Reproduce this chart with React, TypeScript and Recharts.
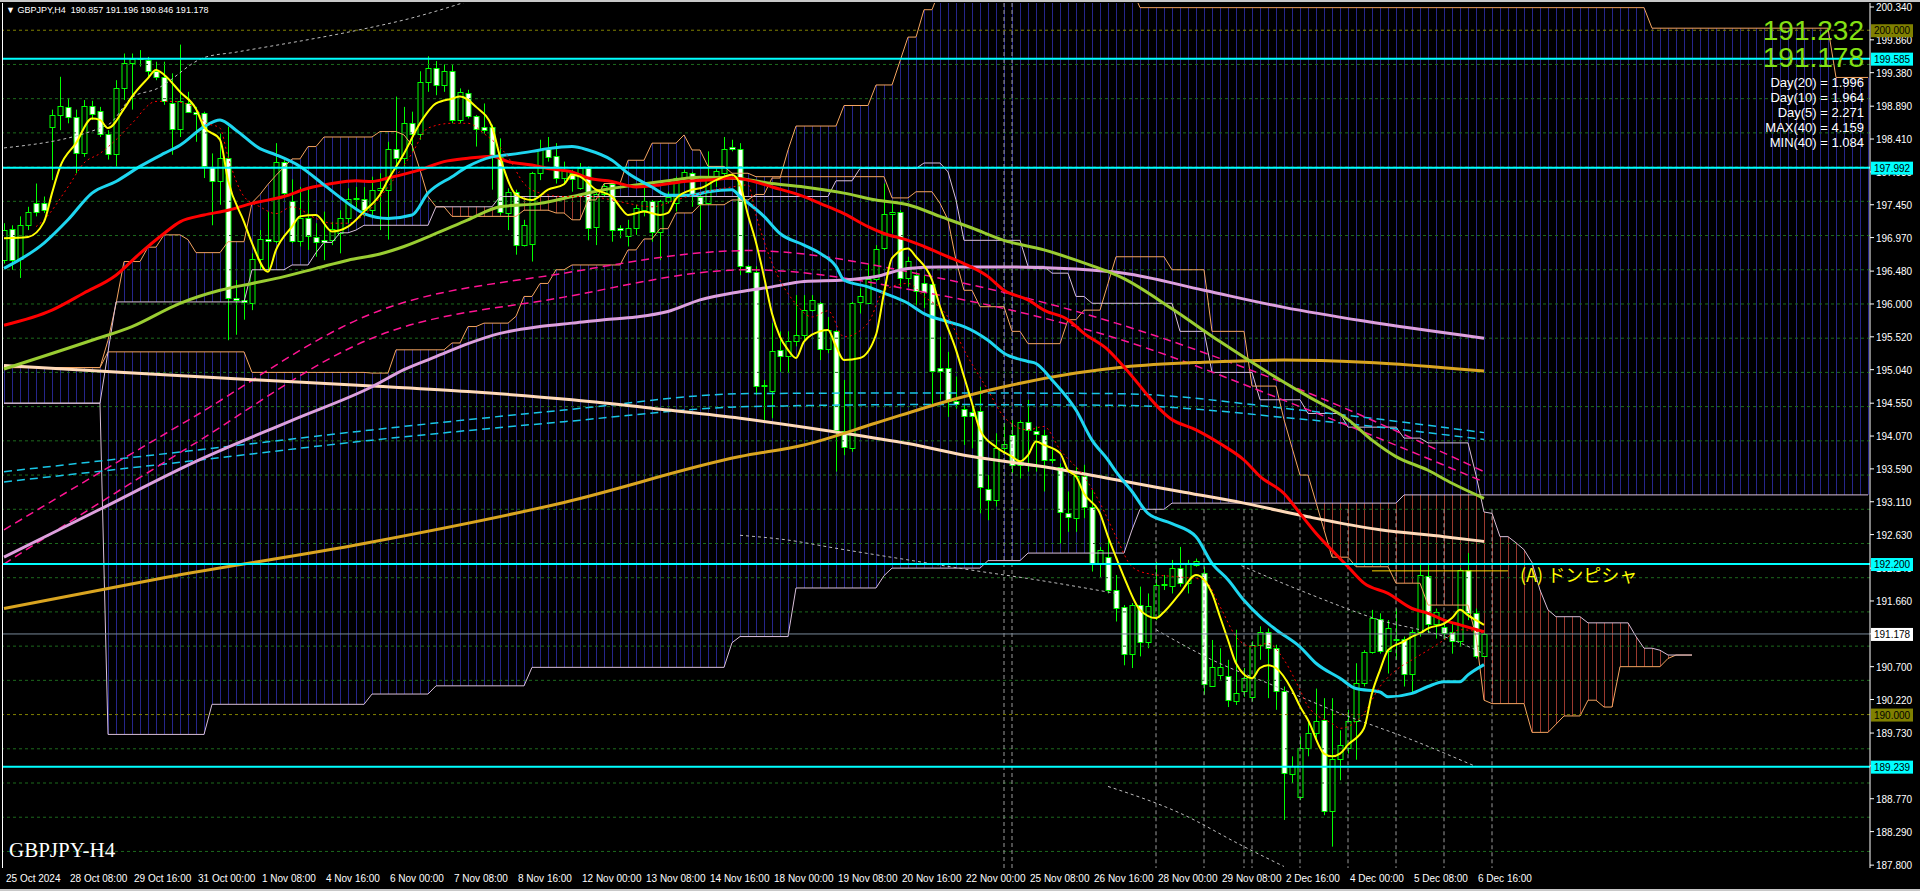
import React from "react";
import { ComposedChart, Bar, Line, XAxis, YAxis, ReferenceLine } from "recharts";

// GBPJPY H4, bars from 25 Oct 2024 00:00 (bar 0) to 6 Dec 2024 20:00 (bar 185)
const opens = [
  196.64, 197.10, 196.65, 197.16, 197.47, 197.47, 198.59, 198.76, 198.88, 198.73,
  198.20, 198.90, 198.82, 198.48, 198.19, 199.15, 199.52, 199.58, 199.57, 199.40,
  199.31, 198.94, 198.55, 198.94, 198.81, 198.79, 198.00, 197.80, 198.14, 196.08,
  196.06, 196.02, 196.65, 196.95, 196.92, 198.07, 197.50, 196.92, 197.26, 196.98,
  196.93, 196.93, 197.04, 197.26, 197.55, 197.53, 197.37, 197.67, 197.67, 198.27,
  198.13, 198.64, 198.48, 199.25, 199.45, 199.20, 199.40, 198.69, 199.09, 198.74,
  198.58, 198.58, 198.15, 197.33, 197.64, 196.86, 196.87, 197.91, 198.26, 198.16,
  197.84, 197.92, 197.70, 197.99, 197.12, 197.60, 197.75, 197.11, 197.00, 197.11,
  197.38, 197.50, 197.05, 197.50, 197.47, 197.84, 197.92, 197.57, 197.47, 197.82,
  197.91, 198.29, 198.27, 196.55, 196.47, 194.82, 194.73, 195.33, 195.24, 195.46,
  195.55, 195.91, 196.01, 195.34, 195.60, 194.14, 193.90, 196.03, 196.02, 196.37,
  196.82, 197.31, 197.35, 196.38, 196.43, 196.30, 196.29, 195.07, 195.06, 194.58,
  194.47, 194.42, 194.44, 193.29, 193.14, 193.90, 194.08, 193.64, 194.27, 194.15,
  194.09, 193.74, 193.62, 192.95, 192.87, 193.49, 193.03, 192.21, 192.30, 191.82,
  191.57, 190.89, 191.60, 191.06, 191.42, 191.89, 191.88, 192.14, 191.92, 192.19,
  192.07, 190.42, 190.58, 190.56, 190.20, 190.34, 190.25, 191.01, 191.20, 190.97,
  190.35, 189.13, 188.80, 189.51, 189.73, 189.92, 188.59, 189.35, 189.51, 189.90,
  190.46, 190.91, 191.39, 190.93, 191.09, 191.11, 190.60, 191.20, 192.03, 191.33,
  191.28, 191.20, 191.07, 192.11, 191.48, 190.857,
];
const highs = [
  197.18, 197.15, 197.28, 197.42, 197.76, 197.57, 198.84, 199.32, 199.01, 198.84,
  198.98, 198.97, 198.88, 198.54, 199.27, 199.66, 199.66, 199.71, 199.61, 199.54,
  199.54, 199.37, 199.79, 199.10, 198.88, 198.81, 198.20, 198.49, 198.59, 196.35,
  196.25, 196.74, 197.08, 197.35, 198.35, 198.10, 197.82, 197.71, 197.71, 197.18,
  197.35, 197.20, 197.37, 197.69, 197.71, 197.71, 197.86, 197.91, 198.37, 199.03,
  198.88, 198.81, 199.40, 199.62, 199.55, 199.50, 199.50, 199.15, 199.13, 198.76,
  198.93, 198.62, 198.42, 197.69, 197.67, 197.23, 197.93, 198.40, 198.44, 198.35,
  198.08, 197.96, 198.06, 198.01, 197.62, 197.76, 197.76, 197.15, 197.23, 197.45,
  197.71, 197.52, 197.52, 197.64, 197.86, 197.96, 197.93, 197.59, 198.23, 197.97,
  198.44, 198.40, 198.35, 196.57, 196.55, 194.89, 195.72, 195.60, 195.60, 196.13,
  196.13, 196.13, 196.03, 195.81, 195.62, 194.89, 196.03, 196.23, 196.59, 196.86,
  197.76, 197.47, 197.37, 196.69, 196.47, 196.42, 196.33, 195.52, 195.30, 194.94,
  194.52, 194.50, 194.79, 193.50, 194.11, 194.26, 194.30, 194.30, 194.60, 194.21,
  194.16, 193.87, 193.67, 193.26, 193.62, 193.65, 193.28, 192.45, 192.60, 192.04,
  191.60, 191.63, 191.87, 191.77, 192.23, 192.04, 192.26, 192.45, 192.26, 192.28,
  192.16, 191.09, 190.97, 190.80, 191.24, 190.68, 191.07, 191.29, 191.26, 191.02,
  190.41, 189.39, 189.68, 189.90, 190.38, 190.24, 190.24, 189.77, 190.07, 190.75,
  190.94, 191.53, 191.48, 191.38, 191.55, 191.14, 191.24, 192.19, 192.21, 191.55,
  191.33, 191.33, 192.14, 192.36, 191.55, 191.196,
];
const lows = [
  196.59, 196.50, 196.38, 197.08, 197.28, 197.33, 197.81, 198.54, 198.64, 197.91,
  198.15, 198.69, 198.44, 198.11, 198.01, 198.98, 198.84, 199.47, 199.32, 199.27,
  198.91, 198.18, 198.44, 198.79, 198.37, 197.84, 197.15, 197.45, 195.47, 195.55,
  195.77, 195.91, 196.50, 196.50, 196.89, 197.59, 196.89, 196.84, 196.79, 196.69,
  196.64, 196.86, 196.74, 197.18, 197.37, 197.28, 197.25, 197.08, 196.94, 197.96,
  198.01, 198.23, 198.40, 199.10, 199.05, 199.10, 198.64, 198.64, 198.71, 198.30,
  198.49, 197.67, 197.30, 197.08, 196.72, 196.84, 196.62, 197.81, 198.08, 197.76,
  197.76, 197.64, 197.67, 196.93, 196.86, 197.57, 196.91, 196.96, 196.84, 197.01,
  197.28, 196.91, 196.64, 197.47, 197.35, 197.79, 197.42, 197.08, 197.45, 197.71,
  197.89, 198.23, 196.42, 196.45, 194.67, 194.30, 194.33, 195.01, 194.99, 195.38,
  195.47, 195.89, 195.18, 195.28, 193.55, 193.79, 193.84, 195.86, 196.01, 196.33,
  196.79, 197.03, 196.25, 196.25, 195.98, 195.94, 194.50, 194.60, 194.35, 194.47,
  193.94, 193.89, 192.94, 192.84, 193.04, 193.82, 193.53, 193.45, 193.55, 193.55,
  193.26, 193.67, 192.50, 192.67, 192.67, 192.87, 192.09, 192.01, 191.77, 191.36,
  190.72, 190.68, 190.85, 190.97, 191.38, 191.82, 191.77, 191.87, 191.77, 192.16,
  190.29, 190.41, 190.51, 190.11, 190.14, 190.26, 190.19, 190.80, 190.24, 190.07,
  188.46, 189.00, 188.75, 189.39, 189.60, 188.53, 188.07, 189.04, 189.43, 189.34,
  190.41, 190.89, 190.89, 190.60, 190.80, 190.41, 190.31, 191.14, 191.19, 191.11,
  191.09, 190.89, 190.99, 191.38, 190.82, 190.846,
];
const closes = [
  197.08, 196.64, 197.16, 197.35, 197.35, 197.38, 198.76, 198.89, 198.73, 198.20,
  198.90, 198.78, 198.48, 198.19, 199.15, 199.52, 199.58, 199.60, 199.40, 199.32,
  198.96, 198.55, 198.97, 198.81, 198.78, 198.01, 197.80, 198.14, 196.08, 196.06,
  196.03, 196.65, 196.95, 196.92, 198.07, 197.62, 196.92, 197.26, 197.00, 196.90,
  196.90, 197.09, 197.26, 197.53, 197.53, 197.37, 197.67, 197.70, 198.27, 198.13,
  198.65, 198.48, 199.25, 199.45, 199.20, 199.40, 198.69, 199.10, 198.74, 198.55,
  198.54, 198.15, 197.34, 197.64, 196.86, 197.15, 197.91, 198.26, 198.15, 197.84,
  197.94, 197.82, 197.99, 197.11, 197.60, 197.73, 197.08, 197.08, 197.11, 197.40,
  197.50, 197.05, 197.50, 197.57, 197.84, 197.93, 197.58, 197.46, 197.84, 197.94,
  198.26, 198.26, 196.55, 196.47, 194.80, 194.80, 195.31, 195.24, 195.46, 195.55,
  195.91, 196.06, 195.34, 195.62, 194.16, 193.91, 196.02, 196.11, 196.37, 196.81,
  197.31, 197.35, 196.38, 196.63, 196.19, 196.17, 195.02, 195.02, 194.58, 194.54,
  194.37, 194.37, 193.32, 193.14, 193.90, 193.96, 193.64, 194.27, 194.16, 194.10,
  193.72, 193.72, 192.96, 192.88, 193.49, 193.04, 192.21, 192.41, 191.82, 191.55,
  190.89, 191.60, 191.06, 191.58, 191.89, 191.91, 192.14, 191.92, 192.20, 192.24,
  190.44, 190.70, 190.70, 190.21, 190.32, 190.54, 191.01, 191.20, 190.97, 190.34,
  189.14, 189.25, 189.51, 189.73, 189.91, 188.59, 189.35, 189.56, 189.90, 190.46,
  190.91, 191.41, 190.93, 191.26, 191.10, 190.60, 191.20, 192.04, 191.33, 191.50,
  191.19, 191.07, 192.11, 191.48, 190.85, 191.178,
];

// time axis labels, one every 8 bars
const xLabels = [
  "25 Oct 2024", "28 Oct 08:00", "29 Oct 16:00", "31 Oct 00:00", "1 Nov 08:00", "4 Nov 16:00",
  "6 Nov 00:00", "7 Nov 08:00", "8 Nov 16:00", "12 Nov 00:00", "13 Nov 08:00", "14 Nov 16:00",
  "18 Nov 00:00", "19 Nov 08:00", "20 Nov 16:00", "22 Nov 00:00", "25 Nov 08:00", "26 Nov 16:00",
  "28 Nov 00:00", "29 Nov 08:00", "2 Dec 16:00", "4 Dec 00:00", "5 Dec 08:00", "6 Dec 16:00",
];
const xTickBars = xLabels.map((_, k) => k * 8);

const yTicks = [
  200.34, 199.86, 199.38, 198.89, 198.41, 197.93, 197.45, 196.97, 196.48, 196.0,
  195.52, 195.04, 194.55, 194.07, 193.59, 193.11, 192.63, 192.14, 191.66, 191.18,
  190.7, 190.22, 189.73, 189.25, 188.77, 188.29, 187.8,
];
const gridLevels = [
  188.0, 188.5, 189.0, 189.5, 190.5, 191.0, 191.5, 192.0, 192.5, 193.0, 193.5,
  194.0, 194.5, 195.0, 195.5, 196.0, 196.5, 197.0, 197.5, 198.0, 198.5, 199.0, 199.5,
];
const roundLevels = [190.0, 200.0];
const cyanLevels = [199.585, 197.992, 192.2, 189.239];
const lastPrice = 191.178;
const markA = { from: 171, to: 188, price: 192.1, text: "(A)  ドンピシャ" };
const weekSeparators = [125, 126];
const daySeparators = [144, 150, 155, 156, 162, 168, 174, 180, 186];
const daySepTop = 193.0;
const dayStats = ["Day(20) = 1.996", "Day(10) = 1.964", "Day(5) = 2.271", "MAX(40) = 4.159", "MIN(40) = 1.084"];
const askPrice = 191.232;

// moving averages, [bar, price]
const ma1 = [
  [0, 196.96], [3, 196.98], [5, 197.2], [6, 197.62], [7, 198.0], [9, 198.35], [11, 198.71], [12, 198.69],
  [13, 198.57], [15, 198.85], [16, 199.03], [18, 199.3], [19, 199.42], [20, 199.35], [22, 199.1], [24, 198.85],
  [25, 198.59], [27, 198.4], [28, 197.81], [30, 197.2], [31, 196.89], [33, 196.47], [34, 196.79], [36, 197.13],
  [37, 197.28], [39, 197.3], [41, 197.06], [43, 197.13], [45, 197.35], [47, 197.6], [48, 197.81], [50, 198.2],
  [52, 198.64], [54, 198.93], [56, 199.0], [57, 199.03], [59, 198.88], [61, 198.59], [62, 198.15], [64, 197.6],
  [66, 197.52], [68, 197.67], [70, 197.75], [71, 197.89], [72, 197.86], [74, 197.67], [76, 197.57], [77, 197.42],
  [78, 197.3], [80, 197.35], [82, 197.3], [83, 197.33], [84, 197.54], [86, 197.67], [87, 197.69], [89, 197.81],
  [91, 197.89], [92, 197.75], [93, 197.3], [94, 196.9], [95, 196.4], [96, 195.86], [97, 195.52], [98, 195.33],
  [99, 195.21], [100, 195.45], [102, 195.6], [103, 195.62], [104, 195.38], [105, 195.18], [107, 195.21],
  [109, 195.55], [110, 196.16], [111, 196.67], [113, 196.81], [114, 196.69], [116, 196.35], [117, 195.96],
  [119, 195.33], [120, 194.94], [121, 194.55], [122, 194.16], [124, 193.91], [126, 193.77], [127, 193.7],
  [128, 193.79], [129, 193.99], [130, 193.94], [132, 193.82], [133, 193.57], [134, 193.48], [135, 193.23],
  [137, 192.94], [138, 192.6], [139, 192.3], [140, 192.01], [142, 191.53], [144, 191.41], [145, 191.5],
  [147, 191.77], [149, 192.04], [151, 191.77], [152, 191.43], [153, 191.09], [154, 190.75], [156, 190.53],
  [157, 190.68], [158, 190.72], [159, 190.68], [161, 190.36], [162, 190.12], [163, 189.92], [165, 189.43],
  [166, 189.39], [167, 189.43], [168, 189.56], [170, 189.8], [171, 190.31], [172, 190.65], [173, 190.94],
  [175, 191.07], [176, 191.14], [177, 191.19], [178, 191.26], [180, 191.33], [181, 191.41], [182, 191.53],
  [183, 191.45], [184, 191.38], [185, 191.31],
];
const ma2 = [
  [4, 197.13], [5, 197.23], [8, 197.71], [10, 198.06], [12, 198.2], [14, 198.4], [16, 198.64], [19, 198.96],
  [21, 198.96], [24, 198.86], [25, 198.66], [27, 198.57], [28, 198.15], [30, 197.57], [32, 197.42], [34, 197.32],
  [36, 197.42], [39, 197.25], [41, 197.18], [43, 197.18], [45, 197.3], [48, 197.71], [51, 198.2], [53, 198.57],
  [56, 198.64], [58, 198.64], [60, 198.49], [63, 198.15], [65, 197.76], [67, 197.62], [70, 197.57], [73, 197.57],
  [76, 197.52], [78, 197.47], [81, 197.42], [84, 197.52], [87, 197.62], [91, 197.71], [93, 197.74], [94, 197.3],
  [96, 196.6], [99, 196.0], [101, 195.81], [103, 195.9], [105, 195.52], [108, 195.72], [110, 196.2], [113, 196.3],
  [115, 196.11], [118, 195.81], [120, 195.33], [123, 194.74], [125, 194.35], [128, 194.16], [130, 194.21],
  [132, 193.87], [135, 193.48], [137, 193.09], [139, 192.6], [141, 192.16], [143, 192.06], [147, 192.01],
  [150, 191.97], [152, 191.58], [154, 191.14], [156, 190.99], [158, 191.04], [160, 190.8], [162, 190.36],
  [163, 190.12], [166, 189.87], [167, 189.8], [170, 190.02], [172, 190.41], [174, 190.65], [176, 190.8],
  [178, 190.94], [180, 191.09], [182, 191.24], [185, 191.19],
];
const ma3 = [
  [0, 196.52], [5, 196.89], [8, 197.23], [11, 197.62], [14, 197.79], [17, 198.01], [20, 198.2], [22, 198.32],
  [25, 198.59], [27, 198.69], [29, 198.54], [32, 198.27], [34, 198.18], [37, 198.01], [40, 197.74], [43, 197.47],
  [45, 197.32], [48, 197.25], [51, 197.3], [53, 197.62], [56, 197.86], [58, 198.01], [61, 198.15], [63, 198.18],
  [66, 198.23], [68, 198.27], [71, 198.3], [73, 198.25], [76, 198.1], [78, 197.91], [81, 197.71], [83, 197.59],
  [86, 197.59], [88, 197.64], [91, 197.67], [92, 197.57], [95, 197.28], [97, 197.03], [100, 196.86], [102, 196.74],
  [104, 196.55], [105, 196.35], [108, 196.25], [110, 196.16], [113, 196.01], [115, 195.86], [118, 195.74],
  [120, 195.67], [123, 195.47], [125, 195.28], [128, 195.16], [129, 195.13], [131, 194.89], [134, 194.45],
  [136, 194.01], [138, 193.72], [139, 193.55], [141, 193.26], [143, 192.94], [146, 192.79], [149, 192.6],
  [151, 192.21], [153, 191.97], [155, 191.67], [157, 191.43], [159, 191.24], [162, 190.99], [164, 190.75],
  [167, 190.53], [169, 190.38], [172, 190.33], [173, 190.26], [176, 190.31], [178, 190.41], [180, 190.48],
  [182, 190.48], [183, 190.58], [185, 190.73],
];
const ma4 = [
  [0, 195.69], [6, 195.91], [10, 196.16], [14, 196.42], [17, 196.74], [20, 197.03], [22, 197.2], [25, 197.3],
  [28, 197.37], [31, 197.47], [35, 197.57], [38, 197.69], [41, 197.76], [44, 197.8], [46, 197.79], [48, 197.84],
  [52, 197.96], [55, 198.08], [58, 198.13], [61, 198.16], [63, 198.08], [66, 198.03], [68, 197.98], [71, 197.93],
  [73, 197.84], [76, 197.79], [79, 197.71], [82, 197.74], [85, 197.79], [88, 197.81], [91, 197.84], [93, 197.81],
  [96, 197.71], [100, 197.57], [102, 197.47], [105, 197.32], [108, 197.13], [110, 197.03], [113, 196.93],
  [115, 196.84], [118, 196.69], [120, 196.59], [123, 196.4], [125, 196.2], [128, 196.06], [130, 195.91],
  [133, 195.77], [135, 195.57], [138, 195.33], [140, 195.08], [146, 194.31], [149, 194.16], [152, 193.96],
  [155, 193.72], [157, 193.48], [160, 193.23], [162, 192.94], [164, 192.65], [166, 192.4], [168, 192.16],
  [170, 191.92], [173, 191.77], [176, 191.55], [178, 191.48], [180, 191.38], [182, 191.31], [185, 191.21],
];
const ma5 = [
  [0, 195.05], [11, 195.47], [16, 195.67], [22, 196.01], [27, 196.2], [31, 196.3], [35, 196.4], [39, 196.52],
  [43, 196.64], [47, 196.73], [50, 196.84], [54, 197.03], [58, 197.23], [62, 197.42], [67, 197.47], [71, 197.57],
  [75, 197.67], [79, 197.74], [83, 197.8], [87, 197.85], [92, 197.83], [96, 197.76], [100, 197.71], [105, 197.62],
  [109, 197.52], [113, 197.45], [117, 197.28], [121, 197.11], [125, 196.93], [130, 196.79], [134, 196.64],
  [140, 196.37], [146, 195.93], [152, 195.45], [158, 195.0], [163, 194.65], [168, 194.31], [171, 194.01],
  [174, 193.77], [178, 193.57], [181, 193.38], [185, 193.16],
];
const ma6 = [
  [0, 192.3], [12, 193.0], [24, 193.7], [36, 194.3], [46, 194.79], [50, 195.04], [54, 195.23], [58, 195.42],
  [62, 195.57], [67, 195.67], [71, 195.72], [75, 195.77], [79, 195.81], [83, 195.89], [87, 196.06], [92, 196.18],
  [96, 196.25], [100, 196.33], [105, 196.35], [109, 196.4], [113, 196.52], [117, 196.54], [125, 196.54],
  [134, 196.51], [140, 196.45], [150, 196.2], [160, 195.95], [170, 195.75], [185, 195.5],
];
const ma7 = [
  [0, 191.55], [20, 192.0], [45, 192.5], [70, 193.1], [92, 193.77], [100, 193.94], [109, 194.26], [117, 194.55],
  [125, 194.79], [134, 194.99], [140, 195.08], [150, 195.15], [160, 195.18], [170, 195.15], [185, 195.02],
];
const ma8 = [
  [0, 195.1], [15, 195.0], [30, 194.9], [46, 194.8], [58, 194.72], [71, 194.6], [83, 194.45], [92, 194.33],
  [104, 194.13], [113, 193.96], [121, 193.77], [130, 193.62], [139, 193.43], [147, 193.26], [155, 193.09],
  [163, 192.89], [172, 192.7], [180, 192.6], [185, 192.53],
];
const cyanDashA = [
  [0, 193.55], [23, 193.85], [46, 194.16], [70, 194.45], [93, 194.69], [116, 194.7], [139, 194.69], [162, 194.45], [185, 194.12],
];
const cyanDashB = [
  [0, 193.4], [23, 193.7], [46, 194.01], [70, 194.28], [93, 194.5], [116, 194.53], [139, 194.52], [162, 194.32], [185, 194.02],
];
const pinkDashA = [
  [0, 192.7], [23, 194.3], [46, 195.86], [70, 196.45], [93, 196.78], [116, 196.4], [139, 195.72], [162, 194.75], [185, 193.55],
];
const pinkDashB = [
  [0, 192.2], [23, 193.9], [46, 195.5], [70, 196.1], [93, 196.5], [116, 196.15], [139, 195.5], [162, 194.5], [185, 193.4],
];
const bandA = [[92, 192.62], [98, 192.55], [104, 192.43], [113, 192.26], [121, 192.11], [129, 191.97], [139, 191.77]];
const bandB = [[144, 191.24], [151, 190.8], [159, 190.41], [167, 190.02], [176, 189.63], [184, 189.24]];
const bandC = [[138, 188.95], [147, 188.56], [155, 188.07], [160, 187.78]];
const bandD = [[154, 192.21], [163, 191.77], [172, 191.38], [180, 191.14], [185, 190.89]];
const bandE = [[0, 198.28], [13, 198.62], [16, 199.02], [19, 199.14], [25, 199.6], [29, 199.68], [45, 200.02], [50, 200.15], [60, 200.5]];

// cloud spans as flat runs: [first bar, last bar, price]
const spanA1Runs = [
  [0, 12, 195.07], [13, 13, 195.47], [14, 14, 196.0], [15, 17, 196.62], [18, 19, 196.83], [20, 22, 197.01],
  [23, 23, 196.94], [24, 27, 196.75], [28, 30, 196.91], [31, 31, 197.48], [32, 32, 197.6], [33, 33, 197.75],
  [34, 34, 197.88], [35, 35, 198.0], [36, 37, 198.12], [38, 39, 198.3], [40, 46, 198.44], [47, 49, 198.52],
  [50, 50, 198.47], [51, 51, 198.32], [52, 52, 197.96], [53, 53, 197.57], [54, 55, 197.42], [56, 64, 197.28],
  [65, 68, 197.37], [69, 70, 197.33], [71, 72, 197.23], [73, 74, 197.52], [75, 77, 197.76], [78, 80, 198.1],
  [81, 84, 198.35], [85, 85, 198.47], [86, 87, 198.25], [88, 90, 198.01], [91, 93, 197.91], [94, 110, 197.86],
  [111, 113, 197.55], [114, 116, 197.64], [117, 117, 197.47], [118, 118, 197.23], [119, 119, 196.64],
  [120, 121, 196.2], [122, 125, 195.96], [126, 127, 195.6], [128, 132, 195.42], [133, 134, 195.77],
  [135, 137, 195.91], [138, 138, 196.3], [139, 145, 196.69], [146, 150, 196.5], [151, 155, 195.6],
  [156, 159, 194.8], [160, 160, 194.31], [161, 161, 193.9], [162, 163, 193.5], [164, 164, 193.1],
  [165, 165, 192.7], [166, 168, 192.3], [169, 173, 192.16], [174, 177, 191.92], [178, 183, 191.6],
  [184, 184, 191.14], [185, 185, 190.21], [186, 190, 190.16], [191, 193, 189.74], [194, 194, 189.86],
  [195, 197, 189.98], [198, 199, 190.21], [200, 201, 190.11], [202, 207, 190.7], [208, 208, 190.82], [209, 211, 190.87],
];
const spanB1Runs = [
  [0, 12, 194.55], [13, 13, 195.3], [14, 30, 196.03], [31, 35, 196.5], [36, 38, 196.57], [39, 39, 196.75],
  [40, 41, 196.9], [42, 43, 197.04], [44, 44, 197.08], [45, 53, 197.15], [54, 61, 197.42], [62, 103, 197.57],
  [104, 106, 197.8], [107, 114, 197.98], [115, 117, 198.06], [118, 118, 197.93], [119, 119, 197.52],
  [120, 127, 196.93], [128, 130, 196.55], [131, 133, 196.45], [134, 135, 196.11], [136, 146, 196.01],
  [147, 150, 195.6], [151, 156, 195.0], [157, 162, 194.6], [163, 167, 194.4], [168, 174, 194.2],
  [175, 177, 194.04], [178, 183, 193.97], [184, 184, 193.5], [185, 185, 192.96], [186, 186, 192.94],
  [187, 188, 192.6], [189, 189, 192.51], [190, 190, 192.41], [191, 191, 192.22], [192, 192, 191.82],
  [193, 193, 191.53], [194, 197, 191.43], [198, 203, 191.34], [204, 204, 191.14], [205, 206, 190.97],
  [207, 207, 190.94], [208, 211, 190.87],
];
const spanA2Runs = [
  [0, 12, 195.07], [13, 30, 195.3], [31, 45, 195.0], [46, 48, 194.99], [49, 55, 195.33], [56, 57, 195.43],
  [58, 59, 195.67], [60, 63, 195.72], [64, 64, 195.82], [65, 66, 196.11], [67, 68, 196.3], [69, 70, 196.5],
  [71, 77, 196.57], [78, 79, 196.79], [80, 81, 196.95], [82, 83, 197.1], [84, 86, 197.33], [87, 90, 197.45],
  [91, 93, 197.52], [94, 95, 197.6], [96, 97, 197.84], [98, 98, 198.25], [99, 104, 198.6], [105, 108, 198.9],
  [109, 111, 199.2], [112, 112, 199.55], [113, 114, 199.9], [115, 116, 200.3], [117, 141, 200.6],
  [142, 205, 200.33], [206, 228, 200.03], [229, 233, 199.31],
];
const spanB2Runs = [
  [0, 12, 194.55], [13, 25, 189.71], [26, 45, 190.15], [46, 53, 190.3], [54, 65, 190.42], [66, 90, 190.69],
  [91, 91, 191.05], [92, 98, 191.14], [99, 109, 191.85], [110, 110, 192.03], [111, 122, 192.14],
  [123, 127, 192.25], [128, 140, 192.36], [141, 141, 192.7], [142, 145, 193.0], [146, 174, 193.09], [175, 233, 193.21],
];

const X_MIN = -0.25;
const X_MAX = 233.25;
const Y_MIN = 187.758;
const Y_MAX = 200.398;
const N = 234;
const MARGIN = { top: 3, right: 0, bottom: 0, left: 2 };

const AXIS_FONT = "'Liberation Sans', Arial, sans-serif";
const BLUE_KUMO = "#26268a";
const RED_KUMO = "#9a3a30";

function fromRuns(runs: number[][]) {
  const out: (number | null)[] = new Array(N).fill(null);
  runs.forEach(([a, b, v]) => {
    for (let k = a; k <= b; k++) out[k] = v;
  });
  return out;
}

const a1 = fromRuns(spanA1Runs);
const b1 = fromRuns(spanB1Runs);
const a2 = fromRuns(spanA2Runs);
const b2 = fromRuns(spanB2Runs);

const rows = Array.from({ length: N }, (_, i) => {
  const A1 = a1[i], B1 = b1[i], A2 = a2[i], B2 = b2[i];
  const has = i < closes.length;
  return {
    i,
    candle: has ? [lows[i], highs[i]] : null,
    o: has ? opens[i] : null,
    h: has ? highs[i] : null,
    l: has ? lows[i] : null,
    c: has ? closes[i] : null,
    k1up: A1 != null && B1 != null && A1 > B1 ? [B1, A1] : null,
    k1dn: A1 != null && B1 != null && B1 > A1 ? [A1, B1] : null,
    k2: A2 != null && B2 != null && A2 > B2 ? [B2, A2] : null,
    a1: A1, b1: B1, a2: A2, b2: B2,
  };
});

const pts = (arr: number[][]) => arr.map(([i, v]) => ({ i, v }));

function Candle(props: any) {
  const { x, y, width, height, payload } = props;
  if (!payload || payload.o == null || height == null || isNaN(y)) return null;
  const cx = Math.round(x + width / 2) + 0.5;
  const k = height / (payload.h - payload.l || 1);
  const yo = y + (payload.h - payload.o) * k;
  const yc = y + (payload.h - payload.c) * k;
  const top = Math.round(Math.min(yo, yc)) + 0.5;
  const bot = Math.round(Math.max(yo, yc)) + 0.5;
  const bull = payload.c >= payload.o;
  return (
    <g>
      <line x1={cx} x2={cx} y1={y} y2={y + height} stroke="#00ff00" strokeWidth={1} />
      <rect x={cx - 2.5} y={top} width={5} height={Math.max(bot - top, 1)} fill={bull ? "#000000" : "#ffffff"} stroke="#00ff00" strokeWidth={1} />
    </g>
  );
}

const stripe = (color: string, key: string) => (props: any) => {
  const { x, y, width, height, payload } = props;
  if (!payload || payload[key] == null || height == null || isNaN(y)) return null;
  const cx = Math.round(x + width / 2) + 0.5;
  return <line x1={cx} x2={cx} y1={y} y2={y + height} stroke={color} strokeWidth={1} />;
};

const priceTag = (text: string, bg: string, fg: string) => (props: any) => {
  const vb = props.viewBox || {};
  const right = (vb.x || 0) + (vb.width || 0);
  const y = vb.y || 0;
  return (
    <g>
      <rect x={right + 1} y={y - 6} width={42} height={13} fill={bg} />
      <text x={right + 4} y={y + 4} fill={fg} fontSize={10} fontFamily={AXIS_FONT}>{text}</text>
    </g>
  );
};

function XTick(props: any) {
  const idx = xTickBars.indexOf(props.payload.value);
  if (idx < 0) return null;
  return (
    <text x={props.x + 2} y={882} fill="#ffffff" fontSize={10} fontFamily={AXIS_FONT}>
      {xLabels[idx]}
    </text>
  );
}

function YTick(props: any) {
  return (
    <text x={props.x} y={props.y + 4} fill="#ffffff" fontSize={10} fontFamily={AXIS_FONT}>
      {Number(props.payload.value).toFixed(3)}
    </text>
  );
}

const lineProps = { xAxisId: "main", dataKey: "v", dot: false, activeDot: false, isAnimationActive: false, connectNulls: true } as const;

// second transparent chart on top, same scales, only for the price tags on the axis
function TagLayer() {
  return (
    <ComposedChart width={1920} height={891} data={rows} margin={MARGIN} style={{ position: "absolute", left: 0, top: 0 }}>
      <XAxis xAxisId="main" dataKey="i" type="number" domain={[X_MIN, X_MAX]} allowDataOverflow height={23} tick={false} axisLine={false} tickLine={false} />
      <YAxis orientation="right" width={50} type="number" domain={[Y_MIN, Y_MAX]} allowDataOverflow tick={false} axisLine={false} tickLine={false} />
      <ReferenceLine xAxisId="main" y={roundLevels[1]} stroke="none" label={priceTag("200.000", "#808000", "#000000")} />
      <ReferenceLine xAxisId="main" y={roundLevels[0]} stroke="none" label={priceTag("190.000", "#808000", "#000000")} />
      <ReferenceLine xAxisId="main" y={lastPrice} stroke="none" label={priceTag(lastPrice.toFixed(3), "#ffffff", "#000000")} />
      {cyanLevels.map((v) => (
        <ReferenceLine key={"t" + v} xAxisId="main" y={v} stroke="none" label={priceTag(v.toFixed(3), "#00ffff", "#000000")} />
      ))}
    </ComposedChart>
  );
}

export default function App() {
  const n = closes.length - 1;
  const header = `GBPJPY,H4  ${opens[n].toFixed(3)} ${highs[n].toFixed(3)} ${lows[n].toFixed(3)} ${closes[n].toFixed(3)}`;
  return (
    <div style={{ position: "absolute", left: 0, top: 0, width: 1920, height: 891, background: "#000000", overflow: "hidden" }}>
      <div style={{ position: "absolute", left: 0, top: 0, width: 1920, height: 2, background: "#c8c8c8" }} />
      <div style={{ position: "absolute", left: 0, top: 889, width: 1920, height: 2, background: "#c8c8c8" }} />
      <ComposedChart width={1920} height={891} data={rows} margin={MARGIN} style={{ position: "absolute", left: 0, top: 0 }}>
        <XAxis xAxisId="main" dataKey="i" type="number" domain={[X_MIN, X_MAX]} allowDataOverflow ticks={xTickBars} interval={0}
          height={23} tick={<XTick />} tickSize={4} tickMargin={1} stroke="#ffffff" axisLine={{ stroke: "#ffffff" }} tickLine={{ stroke: "#ffffff" }} />
        <XAxis xAxisId="k1u" dataKey="i" type="number" domain={[X_MIN, X_MAX]} allowDataOverflow hide />
        <XAxis xAxisId="k1d" dataKey="i" type="number" domain={[X_MIN, X_MAX]} allowDataOverflow hide />
        <XAxis xAxisId="k2" dataKey="i" type="number" domain={[X_MIN, X_MAX]} allowDataOverflow hide />
        <XAxis xAxisId="cd" dataKey="i" type="number" domain={[X_MIN, X_MAX]} allowDataOverflow hide />
        <YAxis orientation="right" width={50} type="number" domain={[Y_MIN, Y_MAX]} allowDataOverflow ticks={yTicks} interval={0}
          tick={<YTick />} tickSize={4} tickMargin={2} axisLine={{ stroke: "#ffffff" }} tickLine={{ stroke: "#ffffff" }} />

        {gridLevels.map((v) => (
          <ReferenceLine key={"g" + v} xAxisId="main" y={v} stroke="#1d6a1d" strokeDasharray="3 3" />
        ))}
        {weekSeparators.map((b) => (
          <ReferenceLine key={"w" + b} xAxisId="main" x={b} stroke="#9a9a9a" strokeDasharray="4 3" />
        ))}
        {daySeparators.map((b) => (
          <ReferenceLine key={"d" + b} xAxisId="main" segment={[{ x: b, y: daySepTop }, { x: b, y: Y_MIN }]} stroke="#9a9a9a" strokeDasharray="4 3" />
        ))}

        <Bar xAxisId="k1u" dataKey="k1up" shape={stripe(BLUE_KUMO, "k1up")} isAnimationActive={false} />
        <Bar xAxisId="k1d" dataKey="k1dn" shape={stripe(RED_KUMO, "k1dn")} isAnimationActive={false} />
        <Bar xAxisId="k2" dataKey="k2" shape={stripe(BLUE_KUMO, "k2")} isAnimationActive={false} />

        <Line xAxisId="main" dataKey="a2" stroke="#f4a460" strokeWidth={1} dot={false} activeDot={false} isAnimationActive={false} type="linear" />
        <Line xAxisId="main" dataKey="b2" stroke="#d8bfd8" strokeWidth={1} dot={false} activeDot={false} isAnimationActive={false} type="linear" />
        <Line xAxisId="main" dataKey="a1" stroke="#f4a460" strokeWidth={1} dot={false} activeDot={false} isAnimationActive={false} type="linear" />
        <Line xAxisId="main" dataKey="b1" stroke="#d8bfd8" strokeWidth={1} dot={false} activeDot={false} isAnimationActive={false} type="linear" />

        {[bandA, bandB, bandC, bandD, bandE].map((b, k) => (
          <Line key={"band" + k} {...lineProps} data={pts(b)} type="monotone" stroke="#bdbdbd" strokeWidth={1} strokeDasharray="3 3" />
        ))}
        <Line {...lineProps} data={pts(cyanDashA)} type="monotone" stroke="#19c6e6" strokeWidth={1.5} strokeDasharray="8 5" />
        <Line {...lineProps} data={pts(cyanDashB)} type="monotone" stroke="#19c6e6" strokeWidth={1.5} strokeDasharray="8 5" />
        <Line {...lineProps} data={pts(pinkDashA)} type="monotone" stroke="#ff1493" strokeWidth={1.5} strokeDasharray="8 5" />
        <Line {...lineProps} data={pts(pinkDashB)} type="monotone" stroke="#ff1493" strokeWidth={1.5} strokeDasharray="8 5" />

        <Line {...lineProps} data={pts(ma8)} type="monotone" stroke="#ffdab9" strokeWidth={3} />
        <Line {...lineProps} data={pts(ma7)} type="monotone" stroke="#daa520" strokeWidth={3} />
        <Line {...lineProps} data={pts(ma6)} type="monotone" stroke="#dda0dd" strokeWidth={3} />
        <Line {...lineProps} data={pts(ma5)} type="monotone" stroke="#9acd32" strokeWidth={3} />
        <Line {...lineProps} data={pts(ma4)} type="monotone" stroke="#ff0000" strokeWidth={3} />
        <Line {...lineProps} data={pts(ma3)} type="monotone" stroke="#1ed6f0" strokeWidth={3} />
        <Line {...lineProps} data={pts(ma2)} type="monotone" stroke="#ff0000" strokeWidth={1} strokeDasharray="2 3" />
        <Line {...lineProps} data={pts(ma1)} type="monotone" stroke="#ffff00" strokeWidth={2} />

        <ReferenceLine xAxisId="main" y={roundLevels[1]} stroke="#808000" strokeDasharray="3 3" />
        <ReferenceLine xAxisId="main" y={roundLevels[0]} stroke="#808000" strokeDasharray="3 3" />
        <ReferenceLine xAxisId="main" y={lastPrice} stroke="#778899" />
        {cyanLevels.map((v) => (
          <ReferenceLine key={"c" + v} xAxisId="main" y={v} stroke="#00ffff" strokeWidth={2} />
        ))}
        <ReferenceLine xAxisId="main" segment={[{ x: markA.from, y: markA.price }, { x: markA.to, y: markA.price }]} stroke="#ffd700"
          label={(p: any) => {
            const vb = p.viewBox || {};
            return (
              <text x={(vb.x || 0) + (vb.width || 0) + 12} y={(vb.y || 0) + 11} fill="#ffff00" fontSize={18} fontFamily="'Noto Sans CJK JP', sans-serif">
                {markA.text}
              </text>
            );
          }} />

        <Bar xAxisId="cd" dataKey="candle" shape={<Candle />} isAnimationActive={false} />
      </ComposedChart>
      <TagLayer />

      <div style={{ position: "absolute", left: 2, top: 3, width: 1, height: 865, background: "#ffffff" }} />
      <div style={{ position: "absolute", left: 6, top: 5, color: "#ffffff", fontFamily: AXIS_FONT, fontSize: 9, whiteSpace: "pre" }}>
        {"▼ " + header}
      </div>
      <div style={{ position: "absolute", right: 56, top: 17, color: "#84e014", fontFamily: AXIS_FONT, fontSize: 28, lineHeight: "27px", textAlign: "right" }}>
        <div>{askPrice.toFixed(3)}</div>
        <div>{closes[n].toFixed(3)}</div>
      </div>
      <div style={{ position: "absolute", right: 56, top: 75, color: "#ffffff", fontFamily: AXIS_FONT, fontSize: 13, lineHeight: "15px", textAlign: "right" }}>
        {dayStats.map((s) => (
          <div key={s}>{s}</div>
        ))}
      </div>
      <div style={{ position: "absolute", left: 9, top: 838, color: "#ffffff", fontFamily: "'Liberation Serif', serif", fontSize: 21 }}>
        GBPJPY-H4
      </div>
    </div>
  );
}
